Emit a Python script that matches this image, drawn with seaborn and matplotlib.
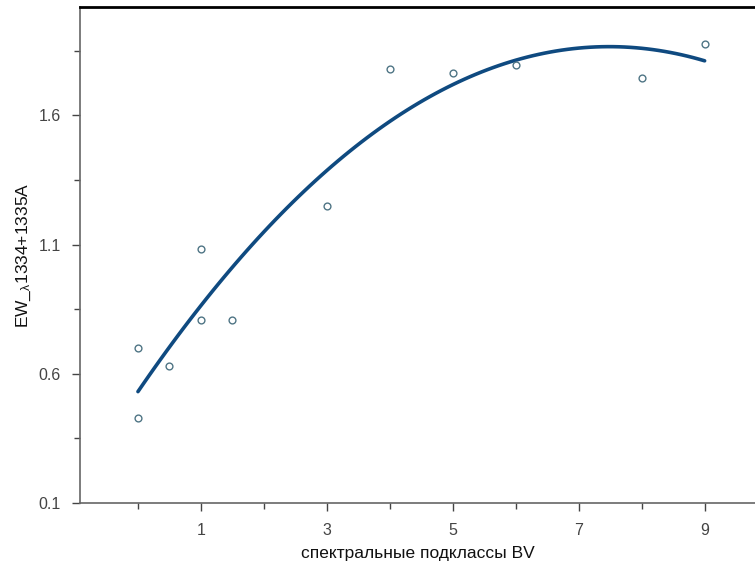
import numpy as np
import pandas as pd
import matplotlib
matplotlib.use("Agg")
import matplotlib.pyplot as plt
import seaborn as sns

sns.set_theme(style="white")
plt.rcParams['font.family'] = ['Liberation Sans', 'DejaVu Sans']
plt.rcParams['mathtext.fontset'] = 'custom'
plt.rcParams['mathtext.rm'] = 'Liberation Sans'
plt.rcParams['mathtext.it'] = 'Liberation Sans'

# spectral subclass and equivalent width
subclass = [0, 0, 0.5, 1, 1, 1.5, 3, 4, 5, 6, 8, 9]
ew = [0.70, 0.43, 0.63, 0.81, 1.085, 0.81, 1.25, 1.78, 1.765, 1.795, 1.745, 1.875]

df = pd.DataFrame({'x': subclass, 'y': ew})

fig = plt.figure(figsize=(7.55, 5.73), dpi=100)
ax = fig.add_axes([0.106, 0.122, 0.894, 0.866])

# quadratic fit line
sns.regplot(data=df, x='x', y='y', order=2, ci=None, truncate=True,
            scatter=False, ax=ax,
            line_kws={'color': '#0f4a80', 'lw': 2.6})
sns.scatterplot(data=df, x='x', y='y', ax=ax, marker='o', s=24,
                facecolor='white', edgecolor='#4f7585', linewidth=1.0,
                zorder=3)

ax.set_xlim(-0.92, 9.8)
ax.set_ylim(0.1, 2.02)
ax.xaxis.set_major_locator(plt.FixedLocator([1, 3, 5, 7, 9]))
ax.xaxis.set_minor_locator(plt.FixedLocator([0, 2, 4, 6, 8]))
ax.yaxis.set_major_locator(plt.FixedLocator([0.1, 0.6, 1.1, 1.6]))
ax.yaxis.set_minor_locator(plt.FixedLocator([0.35, 0.85, 1.35, 1.85]))
ax.set_yticklabels(['0.1', '0.6', '1.1', '1.6'])

ax.tick_params(axis='both', which='both', direction='out', color='#444444',
               labelsize=11.5, labelcolor='#444444')
ax.tick_params(axis='both', which='major', length=6, width=1, pad=8)
ax.tick_params(axis='both', which='minor', length=4, width=1)
ax.tick_params(left=True, bottom=True, which='both')

ax.spines['right'].set_visible(False)
ax.spines['top'].set_color('black')
ax.spines['top'].set_linewidth(2)
ax.spines['left'].set_color('#666666')
ax.spines['left'].set_linewidth(1.2)
ax.spines['bottom'].set_color('#666666')
ax.spines['bottom'].set_linewidth(1.2)

ax.set_xlabel('спектральные подклассы BV', fontsize=12.5, color='#111111', labelpad=6)
ax.set_ylabel(r'EW_$_{\lambda}$1334+1335A', fontsize=12.5, color='#111111', labelpad=4)

fig.savefig('out.png', dpi=100)
